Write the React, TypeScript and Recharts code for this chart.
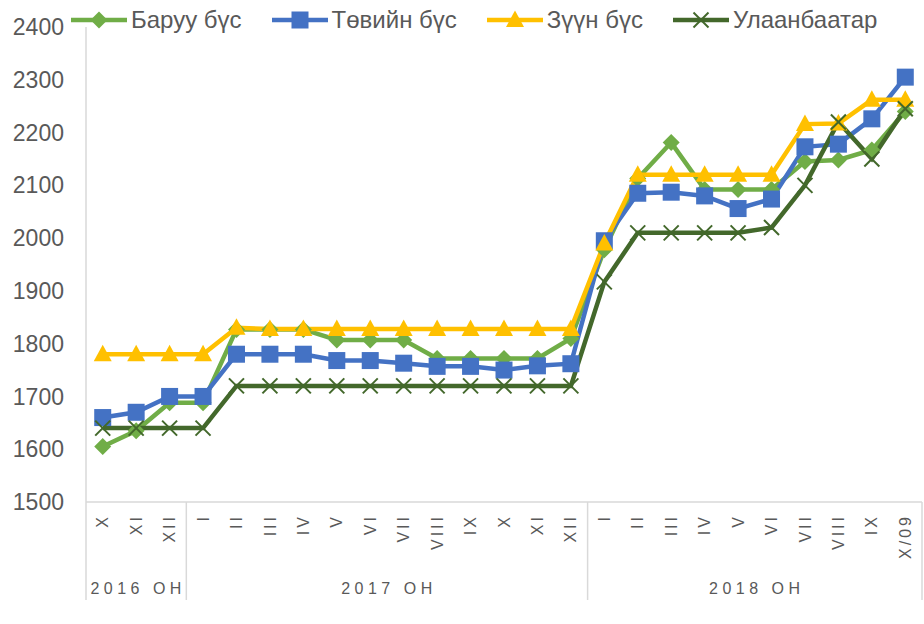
import { Line, LineChart, XAxis, YAxis } from "recharts";

const months = ["X", "XI", "XII", "I", "II", "III", "IV", "V", "VI", "VII", "VIII", "IX", "X", "XI", "XII", "I", "II", "III", "IV", "V", "VI", "VII", "VIII", "IX", "X/09"];
const years = [
  { label: "2016 ОН", count: 3 },
  { label: "2017 ОН", count: 12 },
  { label: "2018 ОН", count: 10 },
];

const baruu = [1605, 1635, 1688, 1688, 1827, 1827, 1827, 1807, 1807, 1807, 1772, 1772, 1772, 1772, 1810, 1978, 2113, 2181, 2092, 2092, 2092, 2145, 2148, 2167, 2240];
const tuv = [1660, 1670, 1700, 1700, 1780, 1780, 1780, 1768, 1768, 1763, 1757, 1757, 1750, 1758, 1762, 1995, 2085, 2087, 2080, 2056, 2074, 2173, 2178, 2226, 2305];
const zuun = [1780, 1780, 1780, 1780, 1830, 1828, 1828, 1828, 1828, 1828, 1828, 1828, 1828, 1828, 1828, 1990, 2120, 2120, 2120, 2120, 2120, 2216, 2217, 2262, 2262];
const ub = [1640, 1640, 1640, 1640, 1720, 1720, 1720, 1720, 1720, 1720, 1720, 1720, 1720, 1720, 1720, 1917, 2010, 2010, 2010, 2010, 2020, 2100, 2220, 2150, 2245];

const yTicks = [1500, 1600, 1700, 1800, 1900, 2000, 2100, 2200, 2300, 2400];

const FONT = "'Liberation Sans', Arial, sans-serif";
const TEXT = "#595959";
const AXIS = "#D9D9D9";

const W = 924;
const H = 624;
const Y_AXIS_W = 86;
const RIGHT = 2;
const BAND = (W - Y_AXIS_W - RIGHT) / months.length;

const data = months.map((m, i) => ({
  key: `${i}`,
  month: m,
  baruu: baruu[i],
  tuv: tuv[i],
  zuun: zuun[i],
  ub: ub[i],
}));

type Shape = "diamond" | "square" | "triangle" | "cross";

const series: { key: string; name: string; color: string; shape: Shape }[] = [
  { key: "baruu", name: "Баруу бүс", color: "#70AD47", shape: "diamond" },
  { key: "tuv", name: "Төвийн бүс", color: "#4472C4", shape: "square" },
  { key: "zuun", name: "Зүүн бүс", color: "#FFC000", shape: "triangle" },
  { key: "ub", name: "Улаанбаатар", color: "#43682B", shape: "cross" },
];

function Marker({ cx, cy, shape, color }: { cx: number; cy: number; shape: Shape; color: string }) {
  if (cx == null || cy == null) return null;
  if (shape === "diamond") {
    const r = 8.5;
    return <polygon points={`${cx},${cy - r} ${cx + r},${cy} ${cx},${cy + r} ${cx - r},${cy}`} fill={color} />;
  }
  if (shape === "square") {
    const r = 8.5;
    return <rect x={cx - r} y={cy - r} width={r * 2} height={r * 2} fill={color} />;
  }
  if (shape === "triangle") {
    return <polygon points={`${cx},${cy - 9.5} ${cx + 9},${cy + 7} ${cx - 9},${cy + 7}`} fill={color} />;
  }
  const r = 7.5;
  return (
    <g stroke={color} strokeWidth={2}>
      <line x1={cx - r} y1={cy - r} x2={cx + r} y2={cy + r} />
      <line x1={cx - r} y1={cy + r} x2={cx + r} y2={cy - r} />
    </g>
  );
}

function MonthTick(props: any) {
  const { x, y, index } = props;
  let start = 0;
  const extras: any[] = [];
  years.forEach((g) => {
    if (index === start) {
      const left = x - BAND / 2;
      extras.push(<line key="sep" x1={left} y1={y} x2={left} y2={y + 98} stroke={AXIS} strokeWidth={1.5} />);
      extras.push(
        <text key="yr" x={left + (g.count * BAND) / 2 + 2} y={y + 92} textAnchor="middle" fill={TEXT} fontSize={16} letterSpacing={4.5} fontFamily={FONT}>
          {g.label}
        </text>
      );
    }
    start += g.count;
  });
  if (index === months.length - 1) {
    extras.push(<line key="end" x1={x + BAND / 2} y1={y} x2={x + BAND / 2} y2={y + 98} stroke={AXIS} strokeWidth={1.5} />);
  }
  return (
    <g>
      <text
        transform={`translate(${x},${y + 12}) rotate(-90)`}
        textAnchor="end"
        dy="0.35em"
        fill={TEXT}
        fontSize={16}
        letterSpacing={3}
        fontFamily={FONT}
      >
        {months[index]}
      </text>
      {extras}
    </g>
  );
}

function LegendBox() {
  return (
    <div style={{ position: "absolute", left: 71, top: 7, display: "flex", alignItems: "center", fontFamily: FONT, fontSize: 24, color: TEXT }}>
      {series.map((s) => (
        <div key={s.key} style={{ display: "flex", alignItems: "center", marginRight: 30 }}>
          <svg width={56} height={26}>
            <line x1={0} y1={13} x2={56} y2={13} stroke={s.color} strokeWidth={4.5} />
            <Marker cx={28} cy={13} shape={s.shape} color={s.color} />
          </svg>
          <span style={{ marginLeft: 4, lineHeight: "26px" }}>{s.name}</span>
        </div>
      ))}
    </div>
  );
}

export default function App() {
  return (
    <div style={{ position: "absolute", left: 0, top: 0, width: W, height: H, background: "#fff" }}>
      <LineChart width={W} height={H} data={data} margin={{ top: 27, right: RIGHT, left: 0, bottom: 0 }}>
        <XAxis
          dataKey="key"
          interval={0}
          height={122}
          padding={{ left: BAND / 2, right: BAND / 2 }}
          tickLine={false}
          tickSize={0}
          tickMargin={0}
          axisLine={{ stroke: AXIS, strokeWidth: 1.5 }}
          tick={<MonthTick />}
        />
        <YAxis
          domain={[1500, 2400]}
          ticks={yTicks}
          width={Y_AXIS_W}
          tickLine={false}
          tickSize={0}
          tickMargin={22}
          axisLine={{ stroke: AXIS, strokeWidth: 1.5 }}
          tick={{ fill: TEXT, fontSize: 23, fontFamily: FONT }}
        />
        {series.map((s) => (
          <Line
            key={s.key}
            dataKey={s.key}
            name={s.name}
            stroke={s.color}
            strokeWidth={4.5}
            type="linear"
            isAnimationActive={false}
            dot={(p: any) => <Marker key={`${s.key}-${p.index}`} cx={p.cx} cy={p.cy} shape={s.shape} color={s.color} />}
            activeDot={false}
          />
        ))}
      </LineChart>
      <LegendBox />
    </div>
  );
}
